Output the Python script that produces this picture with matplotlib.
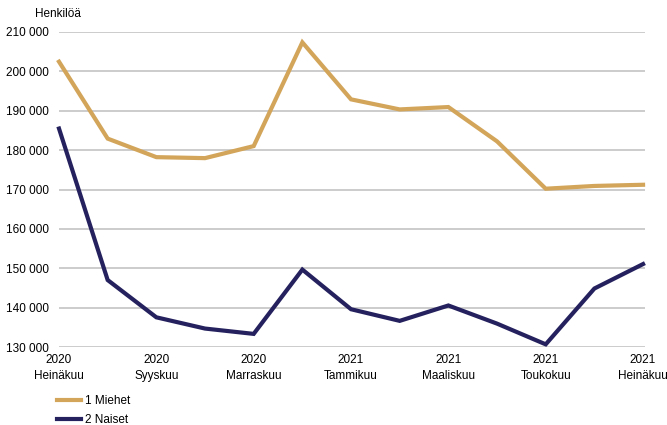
import numpy as np
import matplotlib
matplotlib.use("Agg")
import matplotlib.pyplot as plt
from matplotlib.ticker import FuncFormatter

plt.rcParams['font.family'] = ['Liberation Sans', 'DejaVu Sans']

# monthly values, 2020-07 .. 2021-07
months = ['2020\nHeinäkuu', '', '2020\nSyyskuu', '', '2020\nMarraskuu', '',
          '2021\nTammikuu', '', '2021\nMaaliskuu', '', '2021\nToukokuu', '',
          '2021\nHeinäkuu']
miehet = [202400, 182900, 178200, 177950, 181000, 207300, 192850,
          190300, 190900, 182200, 170200, 170900, 171200]
naiset = [185450, 147050, 137600, 134750, 133400, 149700, 139650,
          136700, 140600, 136000, 130750, 144900, 151100]

col_m = '#D2A55A'
col_n = '#24215E'

fig = plt.figure(figsize=(6.67, 4.25), dpi=100)
ax = fig.add_axes([59 / 667, 1 - 347.3 / 425, (645 - 59) / 667, (347.3 - 31.7) / 425])

x = np.arange(len(months))
ax.plot(x, miehet, color=col_m, lw=3.0, label='1 Miehet', clip_on=False, solid_joinstyle='miter')
ax.plot(x, naiset, color=col_n, lw=3.0, label='2 Naiset', clip_on=False, solid_joinstyle='miter')

ax.set_ylim(130000, 210000)
ax.set_xlim(0, 12.04)
ax.set_yticks(np.arange(130000, 210001, 10000))
ax.yaxis.set_major_formatter(FuncFormatter(lambda v, p: f'{int(v):,}'.replace(',', ' ')))
ax.set_xticks(x)
ax.set_xticklabels(months, linespacing=1.45)
ax.tick_params(axis='both', length=0, labelsize=8.5, colors='black')
ax.tick_params(axis='x', pad=5)
ax.tick_params(axis='y', pad=7)
ax.grid(axis='y', color='#C8C8C8', lw=1.3)
ax.set_axisbelow(True)
for s in ax.spines.values():
    s.set_visible(False)

fig.text(35 / 667, 1 - 14 / 425, 'Henkilöä', fontsize=8.5, va='center', ha='left')

fig.legend(loc='upper left', bbox_to_anchor=(57 / 667, 1 - 395 / 425), frameon=False,
           fontsize=8.5, handlelength=2.0, handletextpad=0.4, labelspacing=0.6,
           borderaxespad=0, borderpad=0)

fig.savefig('out.png', dpi=100)
